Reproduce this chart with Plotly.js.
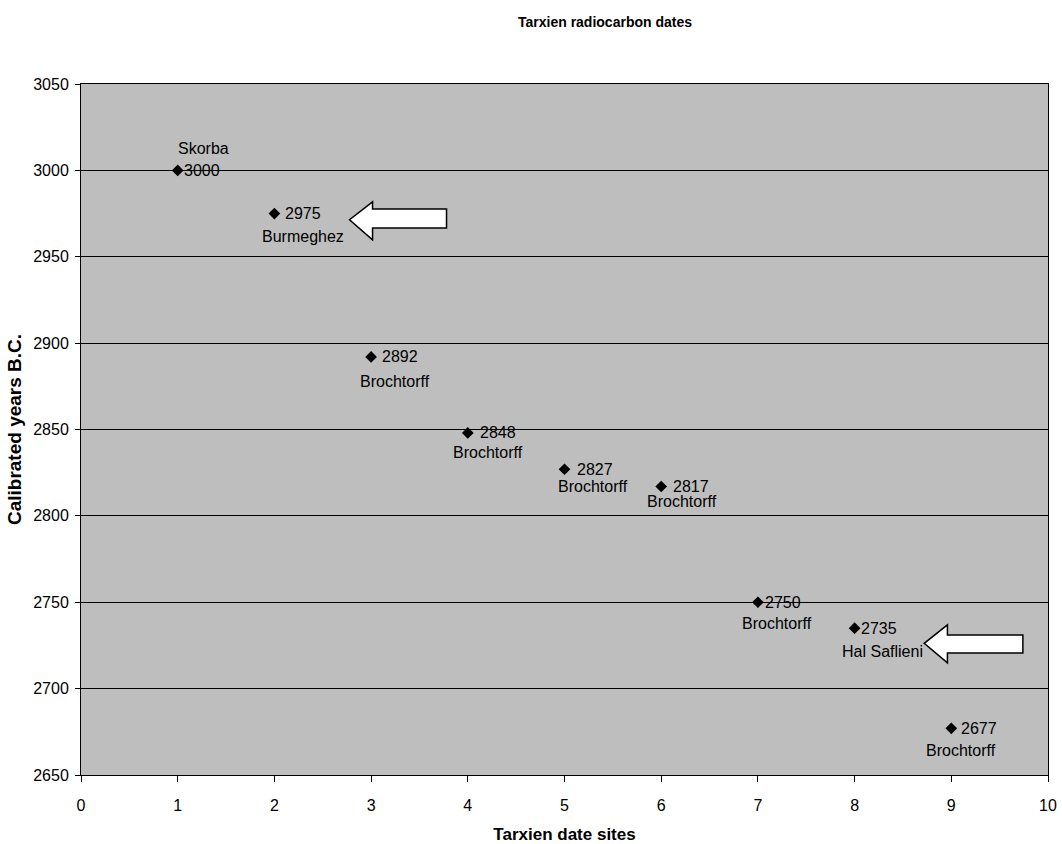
<!DOCTYPE html>
<html>
<head>
<meta charset="utf-8">
<script src="https://cdn.plot.ly/plotly-3.0.1.min.js"></script>
<style>html,body{margin:0;padding:0;background:#fff;}#chart{width:1062px;height:844px;}</style>
</head>
<body>
<div id="chart"></div>
<script>
const sites = [1, 2, 3, 4, 5, 6, 7, 8, 9];
const years = [3000, 2975, 2892, 2848, 2827, 2817, 2750, 2735, 2677];
const siteNames = ["Skorba", "Burmeghez", "Brochtorff", "Brochtorff", "Brochtorff", "Brochtorff", "Brochtorff", "Hal Saflieni", "Brochtorff"];
const xTicks = [0, 1, 2, 3, 4, 5, 6, 7, 8, 9, 10];
const yTicks = [2650, 2700, 2750, 2800, 2850, 2900, 2950, 3000, 3050];
// label placement (pixels from marker): value label x-offset, name label [dx, dy-down]
const valueOffsets = [4, 9, 9, 10, 10, 10, 5, 4, 8];
const nameOffsets = [[26, -22], [29, 23], [24, 25], [20, 20], [28, 17], [21, 15], [19, 21], [28, 23], [10, 22]];

const font = "Liberation Sans, Arial, sans-serif";
const annotations = [];
for (let i = 0; i < sites.length; i++) {
  annotations.push({
    x: sites[i], y: years[i], xref: 'x', yref: 'y',
    text: String(years[i]), showarrow: false,
    xanchor: 'left', yanchor: 'middle', xshift: valueOffsets[i], yshift: 0,
    font: {family: font, size: 16, color: '#000'}
  });
  annotations.push({
    x: sites[i], y: years[i], xref: 'x', yref: 'y',
    text: siteNames[i], showarrow: false,
    xanchor: 'center', yanchor: 'middle',
    xshift: nameOffsets[i][0], yshift: -nameOffsets[i][1],
    font: {family: font, size: 16, color: '#000'}
  });
}

const arrowStyle = {type: 'path', xref: 'x', yref: 'y', fillcolor: '#ffffff', line: {color: '#000', width: 1.5}, layer: 'above'};
const shapes = [
  Object.assign({path: 'M 3.78 2977.6 L 3.015 2977.6 L 3.015 2981.8 L 2.777 2971.4 L 3.015 2959.8 L 3.015 2966.6 L 3.78 2966.6 Z'}, arrowStyle),
  Object.assign({path: 'M 9.74 2731.1 L 8.96 2731.1 L 8.96 2736.9 L 8.72 2726.2 L 8.96 2714.9 L 8.96 2720.6 L 9.74 2720.6 Z'}, arrowStyle)
];

const trace = {
  x: sites, y: years, type: 'scatter', mode: 'markers',
  marker: {symbol: 'diamond', size: 9, color: '#000'},
  hoverinfo: 'x+y'
};

const layout = {
  width: 1062, height: 844,
  margin: {l: 81, r: 14, t: 84, b: 69},
  paper_bgcolor: '#ffffff',
  plot_bgcolor: '#bebebe',
  showlegend: false,
  title: {text: '<b>Tarxien radiocarbon dates</b>', x: 605/1062, xref: 'container', xanchor: 'center', y: 1 - 22/844, yref: 'container', yanchor: 'middle', font: {family: font, size: 14, color: '#000'}},
  xaxis: {
    range: [0, 10], tickvals: xTicks, ticktext: xTicks.map(String),
    showgrid: false, zeroline: false, showline: true, linecolor: '#000', linewidth: 1, mirror: true,
    ticks: 'outside', ticklen: 6, tickcolor: '#000', ticklabelstandoff: 10,
    tickfont: {family: font, size: 16, color: '#000'},
    title: {text: '<b>Tarxien date sites</b>', font: {family: font, size: 17, color: '#000'}, standoff: 14}
  },
  yaxis: {
    range: [2650, 3050], tickvals: yTicks, ticktext: yTicks.map(String),
    showgrid: true, gridcolor: '#000', gridwidth: 1, zeroline: false,
    showline: true, linecolor: '#000', linewidth: 1, mirror: true,
    ticks: 'outside', ticklen: 5, tickcolor: '#000', ticklabelstandoff: 3,
    tickfont: {family: font, size: 16, color: '#000'},
    title: {text: '<b>Calibrated years B.C.</b>', font: {family: font, size: 19, color: '#000'}, standoff: 6}
  },
  annotations: annotations,
  shapes: shapes
};

Plotly.newPlot('chart', [trace], layout, {displayModeBar: false, staticPlot: true});
</script>
</body>
</html>
